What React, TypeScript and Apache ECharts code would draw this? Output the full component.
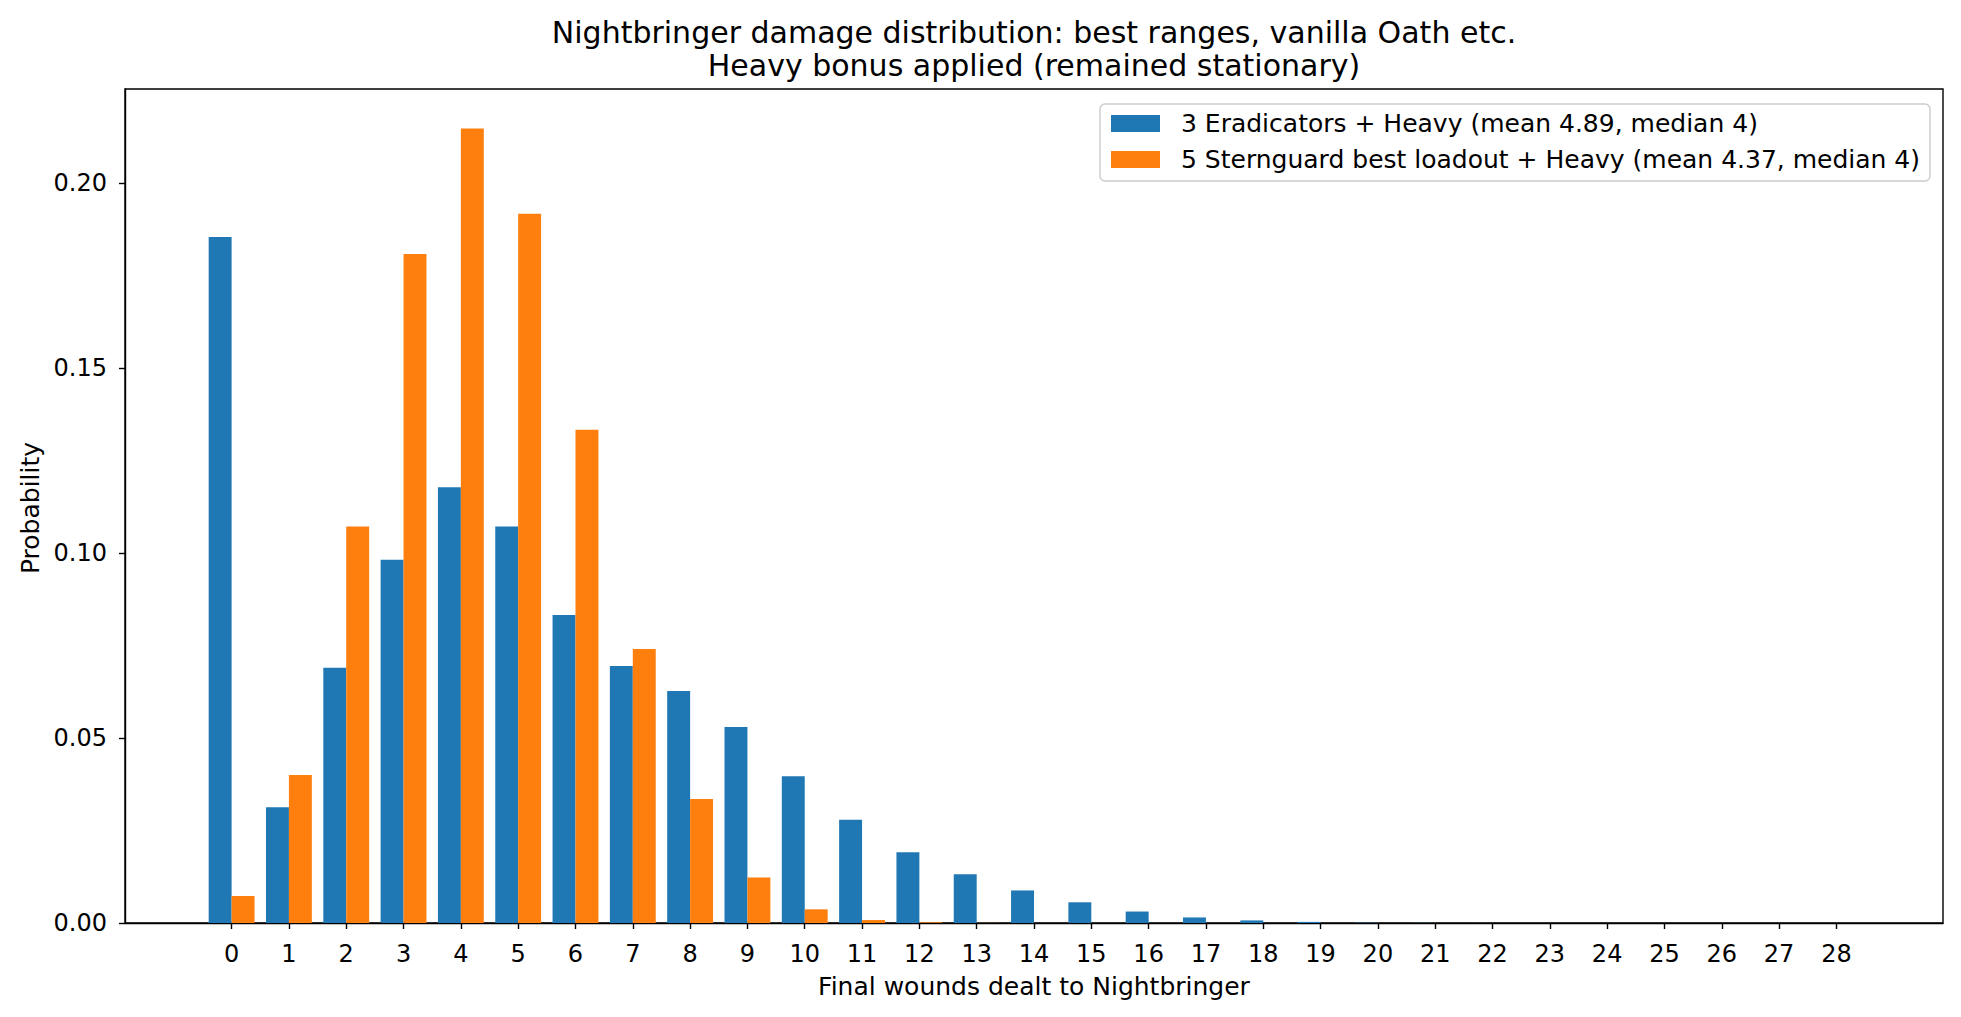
import React, { useEffect, useRef } from "react";
import * as echarts from "echarts";

const woundTicks = [0, 1, 2, 3, 4, 5, 6, 7, 8, 9, 10, 11, 12, 13, 14, 15, 16, 17, 18, 19, 20, 21, 22, 23, 24, 25, 26, 27, 28];

const eradicatorProbs = [
  0.1855, 0.0313, 0.069, 0.0982, 0.1178, 0.1072, 0.0833, 0.0695, 0.0627, 0.053,
  0.0397, 0.0279, 0.0191, 0.0132, 0.0088, 0.0056, 0.0031, 0.0015, 0.0007, 0.0003,
  0.0001, 0.00005, 0.00002, 0.00001, 0, 0, 0, 0, 0,
];

const sternguardProbs = [
  0.0073, 0.04, 0.1072, 0.1809, 0.2148, 0.1918, 0.1334, 0.0741, 0.0335, 0.0123,
  0.0037, 0.0008, 0.0002, 0.00003, 0, 0, 0, 0, 0, 0,
  0, 0, 0, 0, 0, 0, 0, 0, 0,
];

const yTicks = [0, 0.05, 0.1, 0.15, 0.2];

const seriesNames = [
  "3 Eradicators + Heavy (mean 4.89, median 4)",
  "5 Sternguard best loadout + Heavy (mean 4.37, median 4)",
];
const seriesColors = ["#1f77b4", "#ff7f0e"];

const titleLines = [
  "Nightbringer damage distribution: best ranges, vanilla Oath etc.",
  "Heavy bonus applied (remained stationary)",
];
const xLabel = "Final wounds dealt to Nightbringer";
const yLabel = "Probability";

const FONT = "DejaVu Sans";
const BAR_W = 0.4;

function makeRender(offset: number, color: string) {
  return (params: any, api: any) => {
    const x = api.value(0);
    const v = api.value(1);
    const p0 = api.coord([x + offset, v]);
    const p1 = api.coord([x + offset + BAR_W, 0]);
    return {
      type: "rect",
      shape: { x: p0[0], y: p0[1], width: p1[0] - p0[0], height: p1[1] - p0[1] },
      style: { fill: color },
    };
  };
}

export default function App() {
  const ref = useRef<HTMLDivElement>(null);
  useEffect(() => {
    if (!ref.current) return;
    const chart = echarts.init(ref.current, null, { renderer: "svg" });
    const axisLineStyle = { color: "#000", width: 1.4 };
    chart.setOption({
      animation: false,
      backgroundColor: "#fff",
      grid: {
        left: 125,
        right: 18,
        top: 89,
        bottom: 94,
        show: true,
        borderColor: "#000",
        borderWidth: 1.4,
        backgroundColor: "transparent",
      },
      xAxis: {
        type: "value",
        min: -1.86,
        max: 29.86,
        splitLine: { show: false },
        axisLine: { show: true, onZero: false, lineStyle: axisLineStyle },
        axisTick: { show: true, length: 6, lineStyle: axisLineStyle, customValues: woundTicks },
        axisLabel: {
          customValues: woundTicks,
          fontFamily: FONT,
          fontSize: 24,
          color: "#000",
          margin: 19,
        },
      },
      yAxis: {
        type: "value",
        min: 0,
        max: 0.2255,
        splitLine: { show: false },
        axisLine: { show: true, onZero: false, lineStyle: axisLineStyle },
        axisTick: { show: true, length: 6, lineStyle: axisLineStyle, customValues: yTicks },
        axisLabel: {
          customValues: yTicks,
          fontFamily: FONT,
          fontSize: 24,
          color: "#000",
          margin: 18,
          formatter: (v: number) => v.toFixed(2),
        },
      },
      legend: {
        orient: "vertical",
        left: 1100,
        top: 104,
        itemWidth: 49,
        itemHeight: 17,
        itemGap: 11,
        padding: [7, 10, 9, 11],
        backgroundColor: "rgba(255,255,255,0.8)",
        borderColor: "#cccccc",
        borderWidth: 1.4,
        borderRadius: 5,
        selectedMode: false,
        textStyle: { fontFamily: FONT, fontSize: 25, color: "#000", padding: [0, 0, 0, 16] },
        data: seriesNames.map((n, i) => ({ name: n, icon: "rect", itemStyle: { color: seriesColors[i] } })),
      },
      graphic: [
        {
          type: "text",
          style: { text: titleLines[0], x: 1034, y: 32, align: "center", verticalAlign: "middle", fontFamily: FONT, fontSize: 30, fill: "#000" },
        },
        {
          type: "text",
          style: { text: titleLines[1], x: 1034, y: 65, align: "center", verticalAlign: "middle", fontFamily: FONT, fontSize: 30, fill: "#000" },
        },
        {
          type: "text",
          style: { text: xLabel, x: 1034, y: 986, align: "center", verticalAlign: "middle", fontFamily: FONT, fontSize: 25, fill: "#000" },
        },
        {
          type: "text",
          x: 30,
          y: 508,
          rotation: Math.PI / 2,
          style: { text: yLabel, x: 0, y: 0, align: "center", verticalAlign: "middle", fontFamily: FONT, fontSize: 25, fill: "#000" },
        },
      ],
      series: [
        {
          name: seriesNames[0],
          type: "custom",
          itemStyle: { color: seriesColors[0] },
          encode: { x: 0, y: 1 },
          renderItem: makeRender(-BAR_W, seriesColors[0]),
          data: woundTicks.map((w, i) => [w, eradicatorProbs[i]]),
        },
        {
          name: seriesNames[1],
          type: "custom",
          itemStyle: { color: seriesColors[1] },
          encode: { x: 0, y: 1 },
          renderItem: makeRender(0, seriesColors[1]),
          data: woundTicks.map((w, i) => [w, sternguardProbs[i]]),
        },
      ],
    });
    return () => chart.dispose();
  }, []);
  return (
    <div
      ref={ref}
      style={{ position: "absolute", left: 0, top: 0, width: 1961, height: 1017, background: "#fff" }}
    />
  );
}
